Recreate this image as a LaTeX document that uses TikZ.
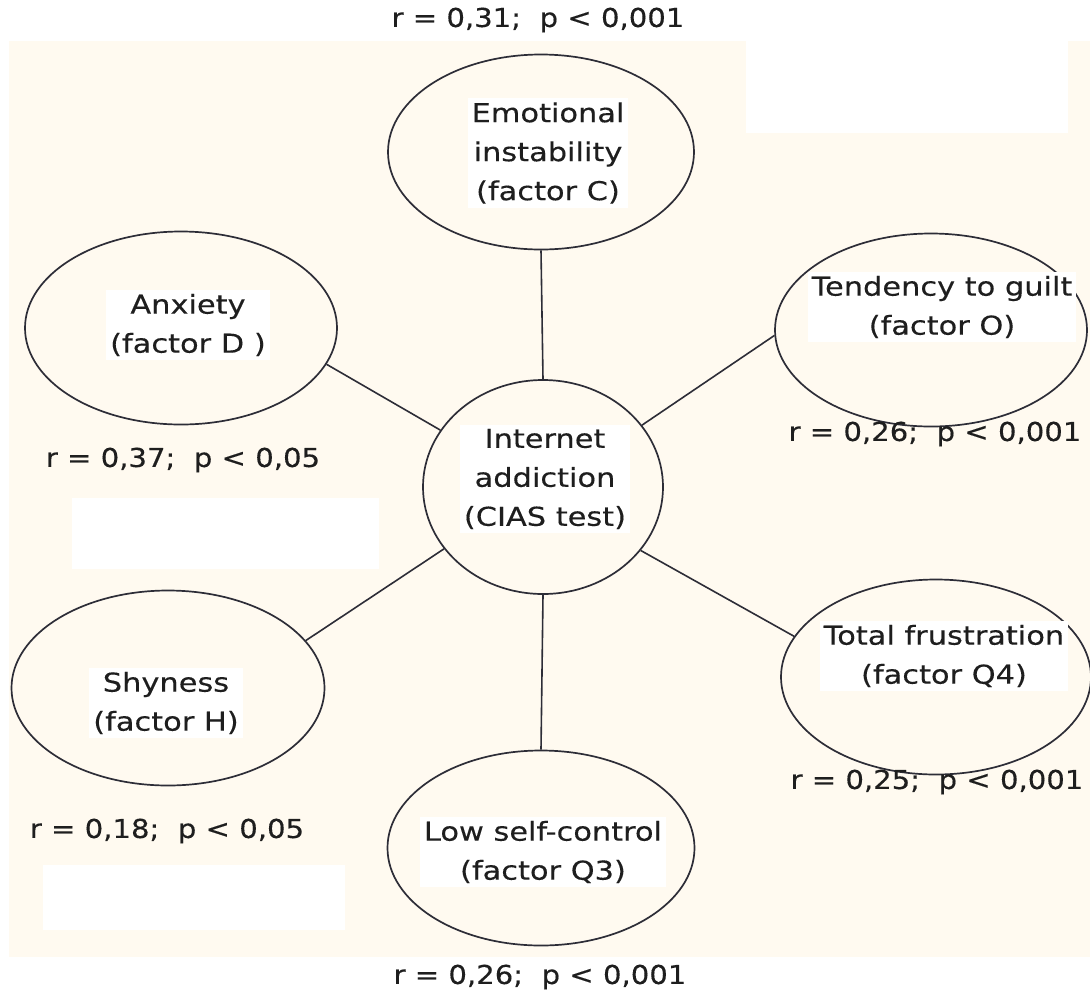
\documentclass[tikz,border=0pt]{standalone}
\usepackage{fontspec}
\setmainfont{DejaVu Sans}[FakeStretch=1.12, FakeBold=0.3]
\newfontfamily\nodefont{DejaVu Sans}[FakeStretch=1.17, FakeBold=0.3]
\usetikzlibrary{shapes.geometric}
\definecolor{cream}{RGB}{255,250,240}
\definecolor{ink}{RGB}{30,30,30}
\definecolor{edge}{RGB}{45,45,55}
\tikzset{
  oval/.style={draw=edge, line width=1.7pt, ellipse, fill=cream, inner sep=0pt},
  txt/.style={fill=white, text=ink, align=center, inner sep=4pt, font=\nodefont\fontsize{26}{39}\selectfont},
  stat/.style={text=ink, inner sep=0pt, font=\fontsize{26}{39}\selectfont},
  conn/.style={draw=edge, line width=1.6pt},
  patch/.style={fill=white, draw=none}
}
\begin{document}
\begin{tikzpicture}[x=1pt,y=-1pt]
\useasboundingbox (0,0) rectangle (1090,994);
\fill[white] (0,0) rectangle (1090,994);
\fill[cream] (9,41) rectangle (1090,957);
\fill[patch] (746,41) rectangle (1068,133);
\fill[patch] (72,498) rectangle (379,569);
\fill[patch] (43,865) rectangle (345,930);

% ellipses
\node[oval, minimum width=306pt, minimum height=195pt] (emo) at (541,152) {};
\node[oval, minimum width=312pt, minimum height=193pt] (anx) at (181,328) {};
\node[oval, minimum width=312pt, minimum height=193pt] (ten) at (931,330) {};
\node[oval, minimum width=240pt, minimum height=214pt] (ia) at (543,487) {};
\node[oval, minimum width=313pt, minimum height=195pt] (shy) at (168,688) {};
\node[oval, minimum width=310pt, minimum height=195pt] (tot) at (936,677) {};
\node[oval, minimum width=307pt, minimum height=195pt] (low) at (541,848) {};

% connectors
\draw[conn] (emo.south) -- (ia.north);
\draw[conn] (anx.-14.8) -- (ia.151.9);
\draw[conn] (ten.182.7) -- (ia.32.9);
\draw[conn] (shy.19) -- (ia.212.7);
\draw[conn] (tot.164.8) -- (ia.-33.7);
\draw[conn] (low.north) -- (ia.south);

% texts
\node[txt] (emot) at (548,153) {Emotional\\instability\\(factor C)};
\node[txt] (anxt) at (188,325) {Anxiety\\(factor D )};
\node[txt] (tent) at (942,307) {Tendency to guilt\\(factor O)};
\node[txt] (iat) at (545,479) {Internet\\addiction\\(CIAS test)};
\node[txt] (tott) at (944,656) {Total frustration\\(factor Q4)};
\node[txt] (shyt) at (166,703) {Shyness\\(factor H)};
\node[txt] (lowt) at (543,852) {Low self-control\\(factor Q3)};

% statistics
\node[stat] (s1) at (538,20) {r = 0,31;\ \ p < 0,001};
\node[stat] (s2) at (183,460) {r = 0,37;\ \ p < 0,05};
\node[stat] (s3) at (935,434) {r = 0,26;\ \ p < 0,001};
\node[stat] (s4) at (937,782) {r = 0,25;\ \ p < 0,001};
\node[stat] (s5) at (167,831) {r = 0,18;\ \ p < 0,05};
\node[stat] (s6) at (540,977) {r = 0,26;\ \ p < 0,001};
\end{tikzpicture}
\end{document}
